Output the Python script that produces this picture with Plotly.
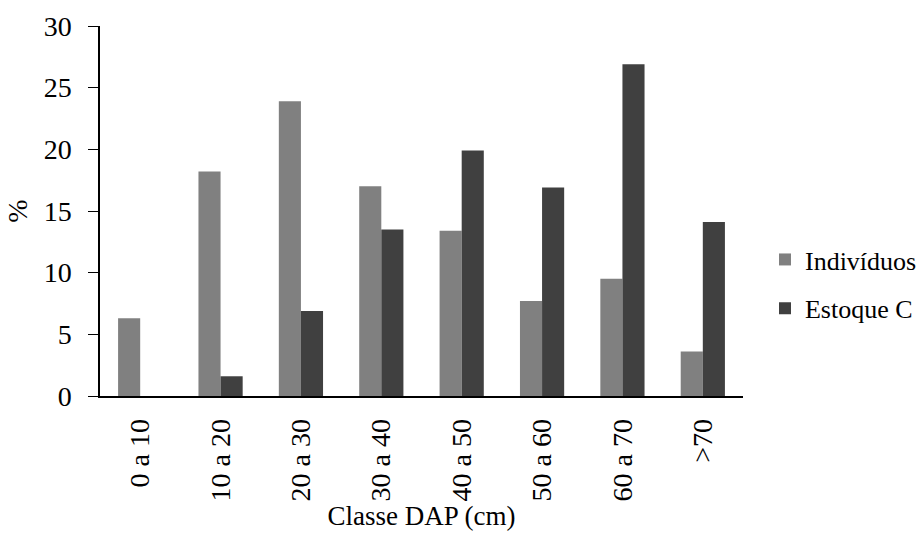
import plotly.graph_objects as go

categories = ["0 a 10", "10 a 20", "20 a 30", "30 a 40", "40 a 50", "50 a 60", "60 a 70", ">70"]
individuos = [6.3, 18.2, 23.9, 17.0, 13.4, 7.7, 9.5, 3.6]
estoque_c = [0.0, 1.6, 6.9, 13.5, 19.9, 16.9, 26.9, 14.1]
y_ticks = [0, 5, 10, 15, 20, 25, 30]

font_family = "Liberation Serif"

fig = go.Figure()
fig.add_trace(go.Bar(x=categories, y=individuos, name="Indivíduos", legendgroup="a",
                     marker=dict(color="#808080", line=dict(width=0))))
fig.add_trace(go.Bar(x=categories, y=estoque_c, name="Estoque C", legendgroup="b",
                     marker=dict(color="#404040", line=dict(width=0))))

fig.update_layout(
    width=921, height=539,
    margin=dict(l=100, r=178, t=26, b=143),
    paper_bgcolor="white", plot_bgcolor="white",
    barmode="group", bargap=0.45, bargroupgap=0,
    font=dict(family=font_family, color="black", size=27),
    showlegend=True,
    legend=dict(xref="container", yref="container", x=0.8306, y=0.473,
                xanchor="left", yanchor="middle",
                font=dict(size=26, family=font_family), itemwidth=30,
                tracegroupgap=12, bgcolor="rgba(0,0,0,0)"),
    xaxis=dict(
        showline=True, linecolor="black", linewidth=1.5,
        tickangle=-90, ticks="", showgrid=False,
        tickfont=dict(size=28, family=font_family),
        ticklabelstandoff=10, automargin=True,
        title=dict(text="Classe DAP (cm)", font=dict(size=27, family=font_family), standoff=5),
    ),
    yaxis=dict(
        range=[0, 30], tickvals=y_ticks, showline=True, linecolor="black", linewidth=1.5,
        ticks="outside", ticklen=10, tickcolor="black", tickwidth=1,
        showgrid=False, zeroline=False, automargin=False,
        ticklabelstandoff=11,
        tickfont=dict(size=28, family=font_family),
        title=dict(text="%", font=dict(size=28, family=font_family), standoff=8),
    ),
)

fig.write_html("out.html", config={"displayModeBar": False},
               post_script="document.body.style.margin='0';document.body.style.overflow='hidden';")
